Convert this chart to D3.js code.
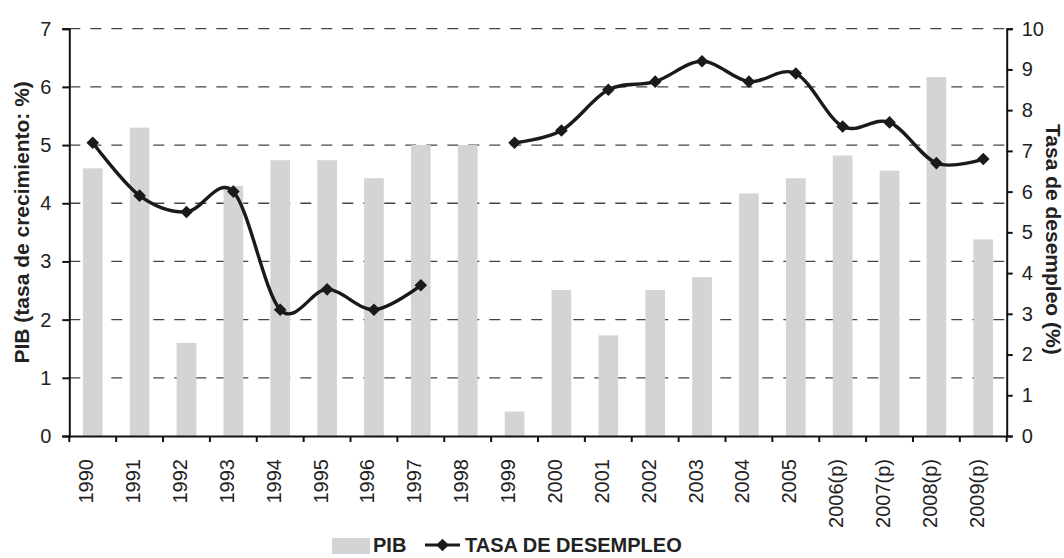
<!DOCTYPE html>
<html>
<head>
<meta charset="utf-8">
<script src="https://cdn.jsdelivr.net/npm/d3@7"></script>
<style>
  body { margin: 0; background: #fff; }
  svg { display: block; font-family: "Liberation Sans", Arial, sans-serif; }
</style>
</head>
<body>
<svg id="drawing_region"></svg>
<script>
// data
const years = ["1990", "1991", "1992", "1993", "1994", "1995", "1996", "1997", "1998", "1999",
    "2000", "2001", "2002", "2003", "2004", "2005", "2006(p)", "2007(p)", "2008(p)", "2009(p)"];
const pib = [4.6, 5.3, 1.6, 4.3, 4.74, 4.74, 4.43, 5.0, 5.0, 0.42,
    2.51, 1.73, 2.51, 2.73, 4.17, 4.43, 4.82, 4.56, 6.17, 3.38];
const desempleo = [7.2, 5.9, 5.5, 6.0, 3.1, 3.6, 3.1, 3.7, null, 7.2,
    7.5, 8.5, 8.7, 9.2, 8.7, 8.9, 7.6, 7.7, 6.7, 6.8];
const leftTicks = [0, 1, 2, 3, 4, 5, 6, 7];
const rightTicks = [0, 1, 2, 3, 4, 5, 6, 7, 8, 9, 10];

const width = 1064, height = 558;
const plot = { left: 69.3, right: 1006.7, top: 28.7, bottom: 436 };

const svg = d3.select('#drawing_region')
    .attr('width', width)
    .attr('height', height);

const x = d3.scaleBand()
    .domain(years)
    .range([plot.left, plot.right]);
const yL = d3.scaleLinear().domain([0, 7]).range([plot.bottom, plot.top]);
const yR = d3.scaleLinear().domain([0, 10]).range([plot.bottom, plot.top]);

// gridlines (left axis)
svg.append('g')
    .selectAll('line')
    .data(leftTicks.filter(d => d > 0))
    .join('line')
    .attr('x1', plot.left)
    .attr('x2', plot.right)
    .attr('y1', d => yL(d))
    .attr('y2', d => yL(d))
    .attr('stroke', '#444')
    .attr('stroke-width', 1.3)
    .attr('stroke-dasharray', '11,10');

// bars
const barW = x.bandwidth() * 0.42;
svg.append('g')
    .selectAll('rect')
    .data(years)
    .join('rect')
    .attr('x', d => x(d) + (x.bandwidth() - barW) / 2)
    .attr('y', (d, i) => yL(pib[i]))
    .attr('width', barW)
    .attr('height', (d, i) => yL(0) - yL(pib[i]))
    .attr('fill', '#d3d4d6');

// axes
const leftAxis = svg.append('g')
    .attr('transform', `translate(${plot.left},0)`)
    .call(d3.axisLeft(yL).tickValues(leftTicks).tickFormat(d3.format('d')).tickSize(7).tickPadding(11));
const rightAxis = svg.append('g')
    .attr('transform', `translate(${plot.right},0)`)
    .call(d3.axisRight(yR).tickValues(rightTicks).tickFormat(d3.format('d')).tickSize(6).tickPadding(9));
const bottomAxis = svg.append('g')
    .attr('transform', `translate(0,${plot.bottom})`)
    .call(d3.axisBottom(x).tickSize(0).tickFormat(''));

// x ticks at category boundaries
svg.append('g')
    .selectAll('line')
    .data(d3.range(years.length + 1))
    .join('line')
    .attr('x1', i => plot.left + i * x.step())
    .attr('x2', i => plot.left + i * x.step())
    .attr('y1', plot.bottom)
    .attr('y2', plot.bottom + 6)
    .attr('stroke', '#111')
    .attr('stroke-width', 2);

[leftAxis, rightAxis, bottomAxis].forEach(g => {
    g.attr('font-family', null).attr('font-size', null);
    g.select('.domain').attr('stroke', '#111').attr('stroke-width', 2);
    g.selectAll('.tick line').attr('stroke', '#111').attr('stroke-width', 2);
    g.selectAll('.tick text')
        .attr('font-size', 20)
        .attr('fill', '#222');
});

// x labels, rotated
svg.append('g')
    .selectAll('text')
    .data(years)
    .join('text')
    .attr('transform', d => `translate(${x(d) + x.bandwidth() / 2 + 0.5},${plot.bottom + 23}) rotate(-90)`)
    .attr('text-anchor', 'end')
    .attr('font-size', 20)
    .attr('fill', '#222')
    .text(d => d);

// unemployment line
const pts = years.map((d, i) => ({ x: x(d) + x.bandwidth() / 2, v: desempleo[i] }));
const line = d3.line()
    .defined(d => d.v != null)
    .x(d => d.x)
    .y(d => yR(d.v))
    .curve(d3.curveCatmullRom.alpha(0));
svg.append('path')
    .datum(pts)
    .attr('d', line)
    .attr('fill', 'none')
    .attr('stroke', '#1a1a1a')
    .attr('stroke-width', 3.4);

const diamond = d3.symbol(d3.symbolSquare, 80);
svg.append('g')
    .selectAll('path')
    .data(pts.filter(d => d.v != null))
    .join('path')
    .attr('d', diamond)
    .attr('transform', d => `translate(${d.x},${yR(d.v)}) rotate(45)`)
    .attr('fill', '#1a1a1a');

// axis titles
svg.append('text')
    .attr('transform', `translate(22,${(plot.top + plot.bottom) / 2 - 10}) rotate(-90)`)
    .attr('text-anchor', 'middle')
    .attr('dy', '0.35em')
    .attr('font-size', 21)
    .attr('font-weight', 'bold')
    .attr('fill', '#222')
    .text('PIB (tasa de crecimiento: %)');
svg.append('text')
    .attr('transform', `translate(1053,${(plot.top + plot.bottom) / 2 + 7}) rotate(90)`)
    .attr('text-anchor', 'middle')
    .attr('dy', '0.35em')
    .attr('font-size', 21)
    .attr('font-weight', 'bold')
    .attr('fill', '#222')
    .text('Tasa de desempleo (%)');

// legend
const legend = svg.append('g');
legend.append('rect')
    .attr('x', 332).attr('y', 538)
    .attr('width', 38).attr('height', 16)
    .attr('fill', '#d3d4d6');
legend.append('text')
    .attr('x', 373).attr('y', 552)
    .attr('font-size', 20).attr('font-weight', 'bold').attr('fill', '#222')
    .text('PIB');
legend.append('line')
    .attr('x1', 425).attr('x2', 460)
    .attr('y1', 545).attr('y2', 545)
    .attr('stroke', '#1a1a1a').attr('stroke-width', 3);
legend.append('path')
    .attr('d', diamond)
    .attr('transform', 'translate(442.5,545) rotate(45)')
    .attr('fill', '#1a1a1a');
legend.append('text')
    .attr('x', 465).attr('y', 552)
    .attr('font-size', 20).attr('font-weight', 'bold').attr('fill', '#222')
    .text('TASA DE DESEMPLEO');
</script>
</body>
</html>
